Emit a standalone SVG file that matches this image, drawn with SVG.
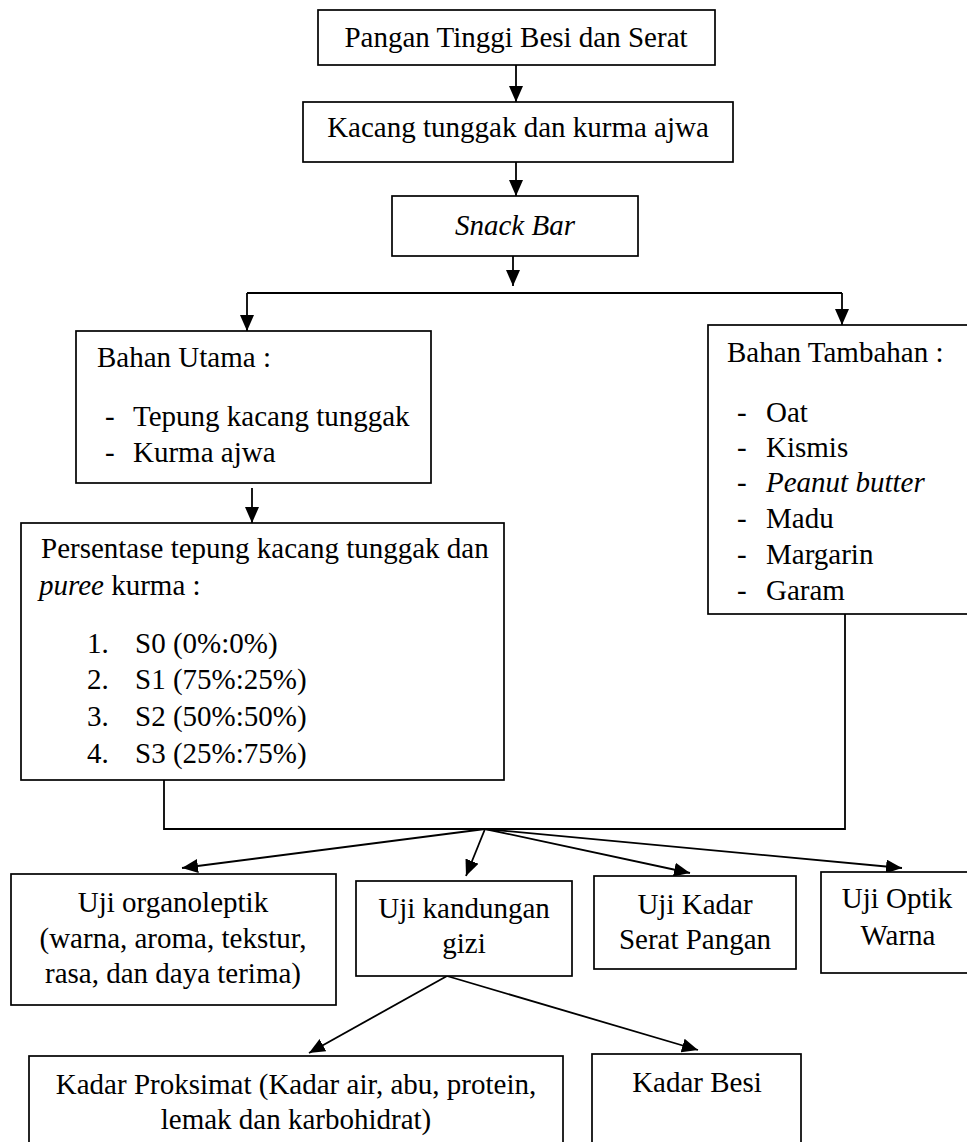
<svg xmlns="http://www.w3.org/2000/svg" width="967" height="1142" viewBox="0 0 967 1142">
<style>
.box{fill:#fff;stroke:#000;stroke-width:1.7}
.t{font-family:"Liberation Serif","Times New Roman",serif;font-size:29px;fill:#000}
.c{text-anchor:middle}
.i{font-style:italic}
.ln{fill:none;stroke:#000;stroke-width:1.8}
</style>
<defs>
<marker id="ah" markerUnits="userSpaceOnUse" markerWidth="17" markerHeight="15" refX="16" refY="7" orient="auto">
<path d="M0,0 L16,7 L0,14 z" fill="#000"/>
</marker>
</defs>
<rect width="967" height="1142" fill="#fff"/>
<g id="connectors">
<line class="ln" x1="516" y1="65" x2="516" y2="102" marker-end="url(#ah)"/>
<line class="ln" x1="516" y1="162" x2="516" y2="196" marker-end="url(#ah)"/>
<line class="ln" x1="513" y1="256" x2="513" y2="286" marker-end="url(#ah)"/>
<polyline class="ln" points="247,293 842,293"/>
<line class="ln" x1="247" y1="293" x2="247" y2="331" marker-end="url(#ah)"/>
<line class="ln" x1="842" y1="293" x2="842" y2="325" marker-end="url(#ah)"/>
<line class="ln" x1="252" y1="488" x2="252" y2="523" marker-end="url(#ah)"/>
<polyline class="ln" points="164,780 164,829 845,829 845,614"/>
<line class="ln" x1="485" y1="829" x2="182" y2="868" marker-end="url(#ah)"/>
<line class="ln" x1="485" y1="829" x2="466" y2="876" marker-end="url(#ah)"/>
<line class="ln" x1="485" y1="829" x2="690" y2="873" marker-end="url(#ah)"/>
<line class="ln" x1="485" y1="829" x2="902" y2="868" marker-end="url(#ah)"/>
<line class="ln" x1="447" y1="976" x2="309" y2="1053" marker-end="url(#ah)"/>
<line class="ln" x1="447" y1="976" x2="698" y2="1050" marker-end="url(#ah)"/>
</g>
<g id="n-pangan">
<rect class="box" x="318" y="10" width="397" height="55"/>
<text class="t c" x="516" y="47">Pangan Tinggi Besi dan Serat</text>
</g>
<g id="n-kacang">
<rect class="box" x="303" y="102" width="430" height="60"/>
<text class="t c" x="518" y="137">Kacang tunggak dan kurma ajwa</text>
</g>
<g id="n-snack">
<rect class="box" x="392" y="196" width="246" height="60"/>
<text class="t c i" x="515" y="235">Snack Bar</text>
</g>
<g id="n-utama">
<rect class="box" x="76" y="331" width="355" height="152"/>
<text class="t" x="97" y="367">Bahan Utama :</text>
<text class="t" x="105" y="426">-</text>
<text class="t" x="133" y="426">Tepung kacang tunggak</text>
<text class="t" x="105" y="462">-</text>
<text class="t" x="133" y="462">Kurma ajwa</text>
</g>
<g id="n-persentase">
<rect class="box" x="21" y="523" width="483" height="257"/>
<text class="t" x="41" y="558">Persentase tepung kacang tunggak dan</text>
<text class="t" x="39" y="595"><tspan class="i">puree</tspan> kurma :</text>
<text class="t" x="87" y="653">1.</text><text class="t" x="135" y="653">S0 (0%:0%)</text>
<text class="t" x="87" y="689">2.</text><text class="t" x="135" y="689">S1 (75%:25%)</text>
<text class="t" x="87" y="726">3.</text><text class="t" x="135" y="726">S2 (50%:50%)</text>
<text class="t" x="87" y="763">4.</text><text class="t" x="135" y="763">S3 (25%:75%)</text>
</g>
<g id="n-tambahan">
<rect class="box" x="708" y="325" width="270" height="289"/>
<text class="t" x="727" y="362">Bahan Tambahan :</text>
<text class="t" x="737" y="422">-</text><text class="t" x="766" y="422">Oat</text>
<text class="t" x="737" y="457">-</text><text class="t" x="766" y="457">Kismis</text>
<text class="t" x="737" y="492">-</text><text class="t i" x="766" y="492">Peanut butter</text>
<text class="t" x="737" y="528">-</text><text class="t" x="766" y="528">Madu</text>
<text class="t" x="737" y="564">-</text><text class="t" x="766" y="564">Margarin</text>
<text class="t" x="737" y="600">-</text><text class="t" x="766" y="600">Garam</text>
</g>
<g id="n-organoleptik">
<rect class="box" x="11" y="874" width="325" height="131"/>
<text class="t c" x="173" y="912">Uji organoleptik</text>
<text class="t c" x="173" y="948">(warna, aroma, tekstur,</text>
<text class="t c" x="173" y="983">rasa, dan daya terima)</text>
</g>
<g id="n-kandungan">
<rect class="box" x="356" y="881" width="216" height="95"/>
<text class="t c" x="464" y="918">Uji kandungan</text>
<text class="t c" x="464" y="953">gizi</text>
</g>
<g id="n-serat">
<rect class="box" x="594" y="876" width="202" height="93"/>
<text class="t c" x="695" y="914">Uji Kadar</text>
<text class="t c" x="695" y="949">Serat Pangan</text>
</g>
<g id="n-optik">
<rect class="box" x="821" y="872" width="160" height="101"/>
<text class="t c" x="897" y="908">Uji Optik</text>
<text class="t c" x="898" y="945">Warna</text>
</g>
<g id="n-proksimat">
<rect class="box" x="29" y="1056" width="534" height="100"/>
<text class="t c" x="296" y="1094">Kadar Proksimat (Kadar air, abu, protein,</text>
<text class="t c" x="296" y="1129">lemak dan karbohidrat)</text>
</g>
<g id="n-besi">
<rect class="box" x="592" y="1054" width="209" height="100"/>
<text class="t c" x="697" y="1092">Kadar Besi</text>
</g>
</svg>
